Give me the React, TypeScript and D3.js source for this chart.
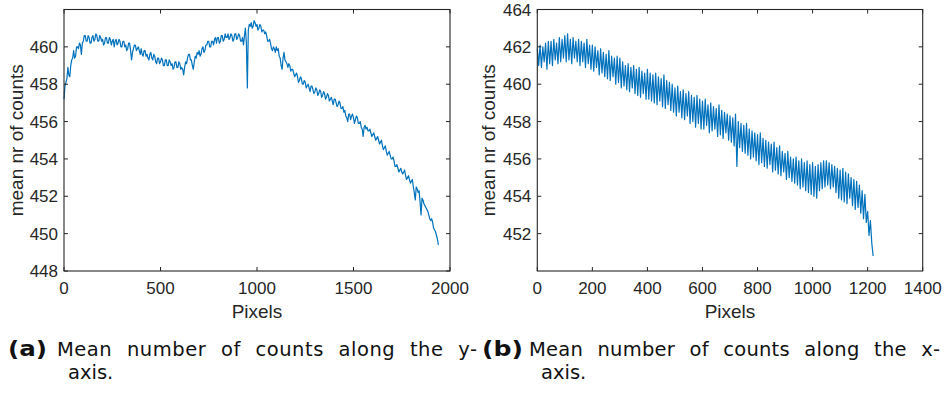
import React from 'react';
import * as d3 from 'd3';

// ---------- data ----------
const stepA = 5; // pixel step of panel (a) samples
const valuesA = [
  457.2, 457.9, 458.1, 458.3, 458.9, 458.5, 458.4, 459.0, 459.3, 459.4, 459.8, 459.4, 459.5, 460.0, 460.0, 459.9, 460.2, 460.1, 459.6, 460.2,
  460.3, 460.6, 460.6, 460.3, 460.3, 460.6, 460.5, 460.2, 460.2, 460.5, 460.6, 460.3, 460.4, 460.7, 460.6, 460.3, 460.3, 460.6, 460.5, 460.3,
  460.4, 460.1, 460.2, 460.5, 460.5, 460.2, 460.2, 460.5, 460.4, 460.1, 460.3, 460.4, 460.0, 460.3, 460.4, 460.1, 460.2, 460.4, 460.3, 460.0,
  460.0, 460.3, 460.3, 460.0, 460.1, 459.8, 459.9, 460.2, 460.2, 459.8, 459.3, 459.7, 459.9, 460.1, 460.1, 459.8, 459.9, 460.0, 459.8, 459.6,
  459.9, 459.6, 459.5, 459.8, 459.8, 459.5, 459.6, 459.4, 459.3, 459.6, 459.7, 459.4, 459.3, 459.6, 459.5, 459.2, 459.1, 459.4, 459.4, 459.1,
  459.2, 459.4, 459.3, 459.0, 459.0, 459.3, 459.3, 459.0, 459.0, 459.3, 459.2, 459.0, 459.1, 458.8, 458.9, 459.2, 459.2, 458.9, 458.9, 459.2,
  459.1, 458.8, 458.9, 458.8, 458.5, 458.9, 459.2, 459.1, 459.4, 459.6, 459.6, 459.3, 459.3, 459.0, 458.8, 459.2, 459.5, 459.4, 459.7, 459.6,
  459.8, 459.5, 459.6, 459.9, 460.0, 459.7, 459.8, 460.1, 460.1, 460.3, 460.3, 460.0, 460.0, 460.3, 460.3, 460.1, 460.4, 460.5, 460.2, 460.5,
  460.5, 460.2, 460.3, 460.6, 460.6, 460.3, 460.4, 460.7, 460.5, 460.5, 460.7, 460.4, 460.5, 460.7, 460.6, 460.3, 460.4, 460.7, 460.7, 460.4,
  460.5, 460.7, 460.6, 460.3, 460.3, 460.5, 460.1, 460.6, 461.0, 460.2, 457.8, 460.9, 461.2, 461.1, 461.3, 461.0, 461.1, 461.4, 461.3, 461.1,
  461.2, 460.9, 461.0, 461.2, 461.1, 460.8, 460.9, 460.9, 460.7, 460.8, 460.6, 460.3, 460.3, 460.4, 460.2, 459.9, 459.8, 460.0, 459.9, 459.7,
  460.0, 459.8, 459.9, 459.5, 459.4, 459.0, 458.8, 459.4, 459.7, 459.3, 459.2, 459.1, 458.9, 459.1, 459.0, 458.7, 458.8, 458.8, 458.6, 458.4,
  458.5, 458.6, 458.4, 458.1, 458.2, 458.4, 458.3, 458.0, 458.0, 458.2, 458.1, 457.8, 457.9, 458.0, 457.8, 457.6, 457.9, 457.9, 457.7, 457.5,
  457.6, 457.8, 457.7, 457.4, 457.5, 457.7, 457.6, 457.3, 457.4, 457.6, 457.5, 457.2, 457.3, 457.5, 457.4, 457.1, 457.2, 457.3, 457.1, 456.9,
  457.2, 457.2, 457.0, 456.8, 456.9, 457.1, 457.0, 456.7, 456.7, 456.8, 456.5, 456.6, 456.3, 456.2, 456.0, 456.4, 456.4, 456.1, 456.3, 456.4,
  456.2, 455.9, 456.1, 456.3, 456.2, 455.9, 455.9, 456.0, 455.7, 455.6, 455.2, 455.7, 455.8, 455.6, 455.7, 455.5, 455.5, 455.6, 455.4, 455.2,
  455.3, 455.4, 455.2, 455.0, 455.1, 455.2, 455.0, 454.8, 454.9, 455.0, 454.7, 454.5, 454.6, 454.7, 454.4, 454.2, 454.3, 454.4, 454.2, 454.0,
  454.0, 454.1, 453.9, 453.6, 453.6, 453.7, 453.5, 453.3, 453.4, 453.5, 453.3, 453.2, 453.3, 453.4, 453.1, 452.9, 453.0, 453.1, 452.9, 452.7,
  452.8, 452.9, 452.5, 452.2, 451.8, 452.5, 452.4, 452.2, 452.3, 451.7, 451.0, 451.9, 451.8, 451.6, 451.5, 451.4, 451.3, 451.2, 451.0, 450.8,
  450.7, 450.8, 450.6, 450.3, 450.2, 450.1, 449.9, 449.7, 449.4,
];

const stepB = 5; // pixel step of panel (b) samples
const valuesB = [
  461.9, 461.0, 462.1, 460.9, 462.0, 461.2, 462.2, 460.8, 462.3, 461.1,
  462.3, 461.0, 462.4, 461.3, 462.2, 461.1, 462.5, 461.2, 462.4, 461.4,
  462.6, 461.2, 462.7, 461.3, 462.4, 461.1, 462.5, 461.4, 462.3, 461.2,
  462.4, 461.0, 462.3, 461.2, 462.2, 460.9, 462.4, 461.1, 462.1, 460.8,
  462.1, 460.7, 462.0, 460.9, 461.8, 460.5, 461.9, 460.6, 461.7, 460.4,
  461.6, 460.3, 461.8, 460.2, 461.5, 460.4, 461.4, 460.0, 461.5, 460.1,
  461.4, 459.8, 461.2, 459.9, 461.0, 459.7, 461.1, 459.6, 460.9, 459.8,
  461.0, 459.5, 460.8, 459.4, 460.9, 459.3, 460.7, 459.5, 460.6, 459.2,
  460.8, 459.2, 460.6, 459.1, 460.5, 459.0, 460.6, 458.9, 460.4, 459.1,
  460.3, 458.8, 460.5, 458.7, 460.2, 458.9, 460.1, 458.6, 460.0, 458.5,
  459.8, 458.3, 459.9, 458.5, 459.6, 458.2, 459.7, 458.1, 459.5, 458.3,
  459.6, 457.9, 459.4, 458.0, 459.3, 457.7, 459.4, 457.9, 459.2, 457.6,
  459.1, 457.6, 459.2, 457.8, 458.9, 457.4, 459.0, 457.5, 458.8, 457.6,
  458.7, 457.2, 458.9, 457.3, 458.6, 457.1, 458.5, 457.4, 458.4, 457.0,
  458.3, 456.9, 458.2, 456.7, 458.4, 455.6, 458.0, 456.6, 457.9, 456.4,
  457.8, 456.3, 457.9, 456.2, 457.6, 456.0, 457.5, 456.1, 457.4, 455.9,
  457.3, 455.7, 457.4, 455.8, 457.1, 455.6, 457.0, 455.5, 456.9, 455.7,
  456.8, 455.3, 456.9, 455.4, 456.6, 455.2, 456.7, 455.1, 456.4, 455.3,
  456.3, 454.9, 456.4, 455.0, 456.1, 454.8, 456.0, 454.7, 456.1, 454.6,
  455.9, 454.4, 456.0, 454.5, 455.8, 454.3, 455.9, 454.2, 455.7, 454.1,
  455.8, 454.0, 455.6, 453.9, 455.7, 454.3, 455.8, 454.4, 455.9, 454.5,
  455.9, 454.6, 455.8, 454.4, 455.7, 454.5, 455.6, 454.2, 455.5, 453.9,
  455.4, 453.8, 455.5, 453.7, 455.3, 453.6, 455.2, 453.9, 455.0, 453.5,
  454.9, 453.3, 454.8, 453.4, 454.6, 453.1, 454.3, 452.8, 454.1, 452.6,
  453.2, 451.9, 452.7, 451.5, 450.8,
];

const xTicksA = [0, 500, 1000, 1500, 2000];
const yTicksA = [448, 450, 452, 454, 456, 458, 460];
const xDomainA = [0, 2000];
const yDomainA = [448, 462];

const xTicksB = [0, 200, 400, 600, 800, 1000, 1200, 1400];
const yTicksB = [452, 454, 456, 458, 460, 462, 464];
const xDomainB = [0, 1400];
const yDomainB = [450, 464];

const xLabel = 'Pixels';
const yLabel = 'mean nr of counts';
const captionA = ['(a)', 'Mean number of counts along the y-', 'axis.'];
const captionB = ['(b)', 'Mean number of counts along the x-', 'axis.'];

// ---------- drawing ----------
const AX = '#262626';
const LINE = '#0072BD';
const FONT = 'Liberation Sans, Arial, Helvetica, sans-serif';

type PanelProps = {
  left: number; right: number; top: number; bottom: number;
  xDomain: number[]; yDomain: number[];
  xTicks: number[]; yTicks: number[];
  values: number[]; step: number;
  yLabelX: number;
};

function Panel(p: PanelProps) {
  const x = d3.scaleLinear().domain(p.xDomain).range([p.left, p.right]);
  const y = d3.scaleLinear().domain(p.yDomain).range([p.bottom, p.top]);
  const line = d3.line<number>().x((_, i) => x(i * p.step)).y((v) => y(v));
  const tl = 4;
  return (
    <g>
      <path d={line(p.values) || ''} fill="none" stroke={LINE} strokeWidth={1.2} strokeLinejoin="round" />
      <rect x={p.left} y={p.top} width={p.right - p.left} height={p.bottom - p.top} fill="none" stroke={AX} strokeWidth={1.1} />
      {p.xTicks.map((t) => (
        <g key={'x' + t}>
          <line x1={x(t)} x2={x(t)} y1={p.bottom} y2={p.bottom - tl} stroke={AX} strokeWidth={1} />
          <line x1={x(t)} x2={x(t)} y1={p.top} y2={p.top + tl} stroke={AX} strokeWidth={1} />
          <text x={x(t)} y={294} textAnchor="middle" fontSize={17} fontFamily={FONT} fill={AX}>{t}</text>
        </g>
      ))}
      {p.yTicks.map((t) => (
        <g key={'y' + t}>
          <line x1={p.left} x2={p.left + tl} y1={y(t)} y2={y(t)} stroke={AX} strokeWidth={1} />
          <line x1={p.right} x2={p.right - tl} y1={y(t)} y2={y(t)} stroke={AX} strokeWidth={1} />
          <text x={p.left - 6} y={y(t)} dy="0.36em" textAnchor="end" fontSize={17} fontFamily={FONT} fill={AX}>{t}</text>
        </g>
      ))}
      <text x={(p.left + p.right) / 2} y={317.5} textAnchor="middle" fontSize={19} fontFamily={FONT} fill={AX}>{xLabel}</text>
      <text transform={`translate(${p.yLabelX},${(p.top + p.bottom) / 2}) rotate(-90)`} textAnchor="middle" fontSize={19} fontFamily={FONT} fill={AX}>{yLabel}</text>
    </g>
  );
}

function Caption({ x0, x1, x2, x3, width, parts }: { x0: number; x1: number; x2: number; x3: number; width: number; parts: string[] }) {
  const CF = 'DejaVu Sans, sans-serif';
  return (
    <g fill="#111">
      <text x={x0} y={355.5} fontSize={21} fontWeight="bold" fontFamily={CF} textLength={x3} lengthAdjust="spacingAndGlyphs">{parts[0]}</text>
      <text x={x1} y={355.5} fontSize={19.5} fontFamily={CF} style={{ wordSpacing: '8px' }} textLength={width} lengthAdjust="spacing">{parts[1]}</text>
      <text x={x2} y={379} fontSize={19.5} fontFamily={CF}>{parts[2]}</text>
    </g>
  );
}

export default function App() {
  return (
    <div style={{ position: 'fixed', left: 0, top: 0, width: 944, height: 396, background: '#fff' }}>
      <svg width={944} height={396} viewBox="0 0 944 396">
        <rect width={944} height={396} fill="#fff" />
        <Panel left={64} right={450} top={9.5} bottom={271} xDomain={xDomainA} yDomain={yDomainA}
          xTicks={xTicksA} yTicks={yTicksA} values={valuesA} step={stepA} yLabelX={23} />
        <Panel left={537.3} right={922.7} top={9.5} bottom={271} xDomain={xDomainB} yDomain={yDomainB}
          xTicks={xTicksB} yTicks={yTicksB} values={valuesB} step={stepB} yLabelX={495} />
        <Caption x0={8} x1={57} x2={68} x3={39} width={420} parts={captionA} />
        <Caption x0={482} x1={529} x2={541} x3={41} width={411} parts={captionB} />
      </svg>
    </div>
  );
}
